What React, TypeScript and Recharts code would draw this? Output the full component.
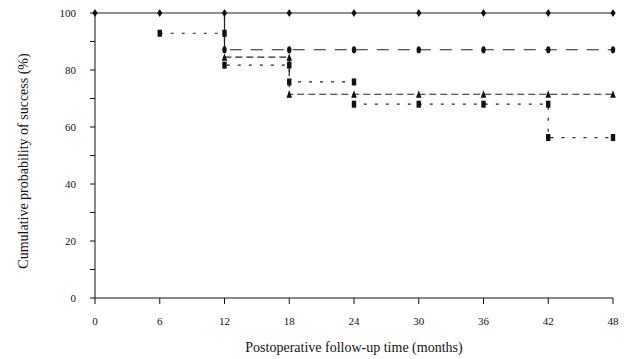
import React from 'react';
import { LineChart, Line, XAxis, YAxis, Label } from 'recharts';

const xTicks = [0, 6, 12, 18, 24, 30, 36, 42, 48];
const yTicks = [0, 10, 20, 30, 40, 50, 60, 70, 80, 90, 100];

const solidX = [0, 6, 12, 18, 24, 30, 36, 42, 48];
const solidY = [100, 100, 100, 100, 100, 100, 100, 100, 100];

const longDashX = [12, 12, 18, 24, 30, 36, 42, 48];
const longDashY = [100, 87.1, 87.1, 87.1, 87.1, 87.1, 87.1, 87.1];

const triX = [12, 12, 18, 18, 24, 30, 36, 42, 48];
const triY = [100, 84.5, 84.5, 71.5, 71.5, 71.5, 71.5, 71.5, 71.5];

const dotX = [6, 12, 12, 18, 18, 24, 24, 30, 36, 42, 42, 48];
const dotY = [92.9, 92.9, 81.7, 81.7, 75.8, 75.8, 68, 68, 68, 68, 56.3, 56.3];

const zip = (xs: number[], ys: number[]) => xs.map((x, i) => ({ x, y: ys[i] }));

const solidData = zip(solidX, solidY);
const longDashData = zip(longDashX, longDashY);
const triData = zip(triX, triY);
const dotData = zip(dotX, dotY);

const FONT = '"Liberation Serif", "DejaVu Serif", serif';
const INK = '#111';

const Diamond = (p: any) => {
  const { cx, cy, index } = p;
  return <path key={`d${index}`} d={`M${cx},${cy - 4}L${cx + 2.6},${cy}L${cx},${cy + 4}L${cx - 2.6},${cy}Z`} fill={INK} />;
};
const Oval = (p: any) => {
  const { cx, cy, index } = p;
  if (index === 0) return <g key={`o${index}`} />;
  return <ellipse key={`o${index}`} cx={cx} cy={cy} rx={2.2} ry={3.6} fill={INK} />;
};
const Tri = (p: any) => {
  const { cx, cy, index } = p;
  if (index === 0) return <g key={`t${index}`} />;
  return <path key={`t${index}`} d={`M${cx},${cy - 4}L${cx + 2.8},${cy + 3.5}L${cx - 2.8},${cy + 3.5}Z`} fill={INK} />;
};
const Sq = (p: any) => {
  const { cx, cy, index } = p;
  return <rect key={`s${index}`} x={cx - 2.2} y={cy - 3.5} width={4.4} height={7} fill={INK} />;
};

const tickStyle = { fontSize: 11, fill: INK, fontFamily: FONT };

const YTitle = () => (
  <text
    x={23}
    y={161}
    transform="rotate(-90, 23, 161)"
    textAnchor="middle"
    dominantBaseline="central"
    style={{ fontSize: 14, fill: INK, fontFamily: FONT }}
  >
    Cumulative probability of success (%)
  </text>
);

export default function App() {
  return (
    <div style={{ position: 'absolute', left: 0, top: 0, background: '#fff' }}>
      <LineChart width={630} height={359} margin={{ top: 13, right: 17, left: 0, bottom: 0 }}>
        <XAxis
          type="number"
          dataKey="x"
          domain={[0, 48]}
          ticks={xTicks}
          interval={0}
          height={61}
          tick={tickStyle}
          tickSize={6}
          tickMargin={13}
          stroke={INK}
          allowDuplicatedCategory={false}
        >
          <Label
            value="Postoperative follow-up time (months)"
            position="insideBottom"
            offset={7}
            style={{ fontSize: 14, fill: INK, fontFamily: FONT }}
          />
        </XAxis>
        <YAxis
          type="number"
          dataKey="y"
          domain={[0, 100]}
          ticks={yTicks}
          interval={0}
          width={95}
          tick={tickStyle}
          tickSize={5}
          tickMargin={14}
          tickFormatter={(v: number) => (v % 20 === 0 ? String(v) : '')}
          stroke={INK}
        >
          <Label content={<YTitle />} />
        </YAxis>
        <Line data={solidData} dataKey="y" type="linear" stroke="#222" strokeWidth={1.2} dot={Diamond} activeDot={false} isAnimationActive={false} />
        <Line data={longDashData} dataKey="y" type="linear" stroke="#222" strokeWidth={1.2} strokeDasharray="12 9" dot={Oval} activeDot={false} isAnimationActive={false} />
        <Line data={triData} dataKey="y" type="linear" stroke="#222" strokeWidth={1.2} strokeDasharray="7 4" dot={Tri} activeDot={false} isAnimationActive={false} />
        <Line data={dotData} dataKey="y" type="linear" stroke="#222" strokeWidth={1.2} strokeDasharray="3 8" dot={Sq} activeDot={false} isAnimationActive={false} />
      </LineChart>
    </div>
  );
}
